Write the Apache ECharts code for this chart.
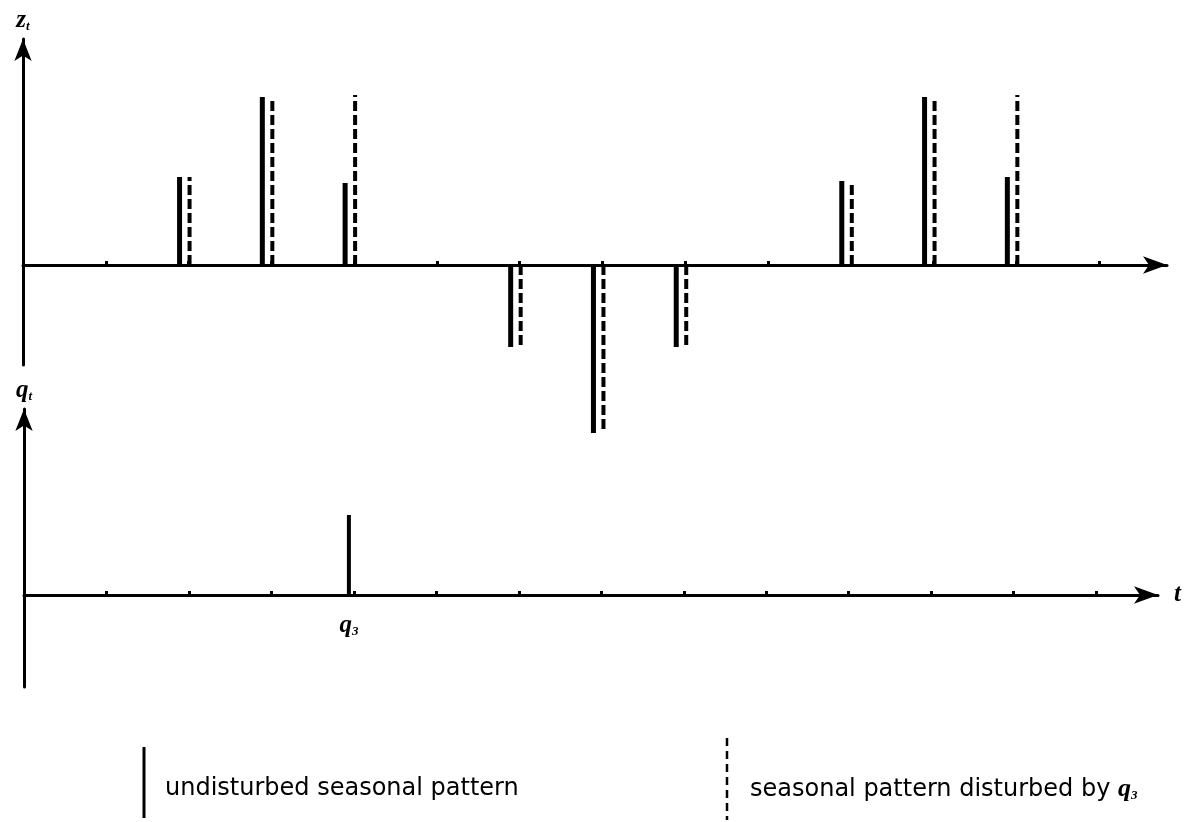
<!DOCTYPE html>
<html>
<head>
<meta charset="utf-8">
<script src="https://cdn.jsdelivr.net/npm/echarts@6/dist/echarts.min.js"></script>
<style>html,body{margin:0;padding:0;background:#fff;}#c{width:1185px;height:822px;}</style>
</head>
<body>
<div id="c"></div>
<script>
// time periods t
const periods = [1, 2, 3, 4, 5, 6, 7, 8, 9, 10, 11, 12, 13];
// seasonal pattern z_t (undisturbed)
const undisturbed = [0, 2.2, 4.2, 2.05, 0, -2.05, -4.2, -2.05, 0, 2.1, 4.2, 2.2, 0];
// seasonal pattern disturbed by q3
const disturbed = [0, 2.2, 4.2, 4.25, 0, -2.05, -4.2, -2.05, 0, 2.1, 4.2, 4.25, 0];
// disturbance q_t
const disturbance = [0, 0, 0, 2.0, 0, 0, 0, 0, 0, 0, 0, 0, 0];
const disturbanceLabel = 'q3';
const tickPositions = [1, 2, 3, 4, 5, 6, 7, 8, 9, 10, 11, 12, 13];
const legendSolid = 'undisturbed seasonal pattern';
const legendDashed = 'seasonal pattern disturbed by ';

const serif = "'Liberation Serif', 'DejaVu Serif', serif";
const sans = "'DejaVu Sans', 'Liberation Sans', sans-serif";
const nameRich = {
  a: { fontFamily: serif, fontStyle: 'italic', fontWeight: 'bold', fontSize: 25, color: '#000', verticalAlign: 'bottom', lineHeight: 24 },
  b: { fontFamily: serif, fontStyle: 'italic', fontWeight: 'bold', fontSize: 13, color: '#000', verticalAlign: 'bottom', lineHeight: 18 }
};

function pairs(vals) { return periods.map((t, i) => [t, vals[i]]); }

function spike(offset, dashed, width, label) {
  return function (params, api) {
    const x = api.value(0), v = api.value(1);
    if (!v) return null;
    const p0 = api.coord([x, 0]);
    const p1 = api.coord([x, v]);
    const children = [{
      type: 'line',
      shape: { x1: p0[0] + offset, y1: p0[1], x2: p1[0] + offset, y2: p1[1] },
      style: { stroke: '#000', lineWidth: width, lineDash: dashed ? [10, 4] : null, lineCap: 'butt' }
    }];
    if (label) {
      children.push({
        type: 'text',
        style: {
          text: '{a|q}{b|3}', rich: nameRich,
          x: p0[0] + offset, y: p0[1] + 31, align: 'center', verticalAlign: 'middle'
        }
      });
    }
    return { type: 'group', children: children };
  };
}

const axisLineStyle = { color: '#000', width: 3 };
const chart = echarts.init(document.getElementById('c'));
chart.setOption({
  backgroundColor: '#fff',
  animation: false,
  grid: [
    { left: 23, top: 39, width: 1144, height: 326 },
    { left: 24, top: 409, width: 1134, height: 278 }
  ],
  xAxis: [
    {
      gridIndex: 0, type: 'value', min: 0, max: 13.82,
      axisLine: { onZero: true, lineStyle: axisLineStyle, symbol: ['none', 'arrow'], symbolSize: [13, 24] },
      axisTick: { show: true, inside: true, length: 4, customValues: tickPositions, lineStyle: { color: '#000', width: 3 } },
      axisLabel: { show: false }, splitLine: { show: false }
    },
    {
      gridIndex: 1, type: 'value', min: 0, max: 13.75,
      name: 't', nameLocation: 'end', nameGap: 16,
      nameTextStyle: { fontFamily: serif, fontStyle: 'italic', fontWeight: 'bold', fontSize: 25, color: '#000', verticalAlign: 'middle' },
      axisLine: { onZero: true, lineStyle: axisLineStyle, symbol: ['none', 'arrow'], symbolSize: [13, 24] },
      axisTick: { show: true, inside: true, length: 4, customValues: tickPositions, lineStyle: { color: '#000', width: 3 } },
      axisLabel: { show: false }, splitLine: { show: false }
    }
  ],
  yAxis: [
    {
      gridIndex: 0, type: 'value', min: -2.5, max: 5.65,
      name: '{a|z}{b|t}', nameLocation: 'end', nameGap: 6,
      nameTextStyle: { rich: nameRich },
      axisLine: { onZero: true, lineStyle: axisLineStyle, symbol: ['none', 'arrow'], symbolSize: [13, 22] },
      axisTick: { show: false }, axisLabel: { show: false }, splitLine: { show: false }
    },
    {
      gridIndex: 1, type: 'value', min: -2.3, max: 4.65,
      name: '{a|q}{b|t}', nameLocation: 'end', nameGap: 6,
      nameTextStyle: { rich: nameRich },
      axisLine: { onZero: true, lineStyle: axisLineStyle, symbol: ['none', 'arrow'], symbolSize: [13, 22] },
      axisTick: { show: false }, axisLabel: { show: false }, splitLine: { show: false }
    }
  ],
  series: [
    { type: 'custom', xAxisIndex: 0, yAxisIndex: 0, clip: false, renderItem: spike(-9, false, 5), data: pairs(undisturbed), z: 3 },
    { type: 'custom', xAxisIndex: 0, yAxisIndex: 0, clip: false, renderItem: spike(1, true, 4), data: pairs(disturbed), z: 3 },
    { type: 'custom', xAxisIndex: 1, yAxisIndex: 1, clip: false, renderItem: spike(-5, false, 4, disturbanceLabel), data: pairs(disturbance), z: 3 }
  ],
  graphic: [
    { type: 'line', shape: { x1: 144, y1: 747, x2: 144, y2: 818 }, style: { stroke: '#000', lineWidth: 3 } },
    { type: 'text', style: { text: legendSolid, x: 165, y: 789, font: '24px ' + sans, fill: '#000', verticalAlign: 'middle' } },
    { type: 'line', shape: { x1: 727, y1: 738, x2: 727, y2: 820 }, style: { stroke: '#000', lineWidth: 2.5, lineDash: [8, 5] } },
    { type: 'text', style: { text: '{t|' + legendDashed + '}{a|q}{b|3}', x: 750, y: 789, verticalAlign: 'middle',
      rich: { t: { fontFamily: sans, fontSize: 24, color: '#000', verticalAlign: 'bottom', lineHeight: 26 },
              a: { fontFamily: serif, fontStyle: 'italic', fontWeight: 'bold', fontSize: 26, color: '#000', verticalAlign: 'bottom', lineHeight: 26 },
              b: { fontFamily: serif, fontStyle: 'italic', fontWeight: 'bold', fontSize: 13, color: '#000', verticalAlign: 'bottom', lineHeight: 20 } } } }
  ]
});
</script>
</body>
</html>
